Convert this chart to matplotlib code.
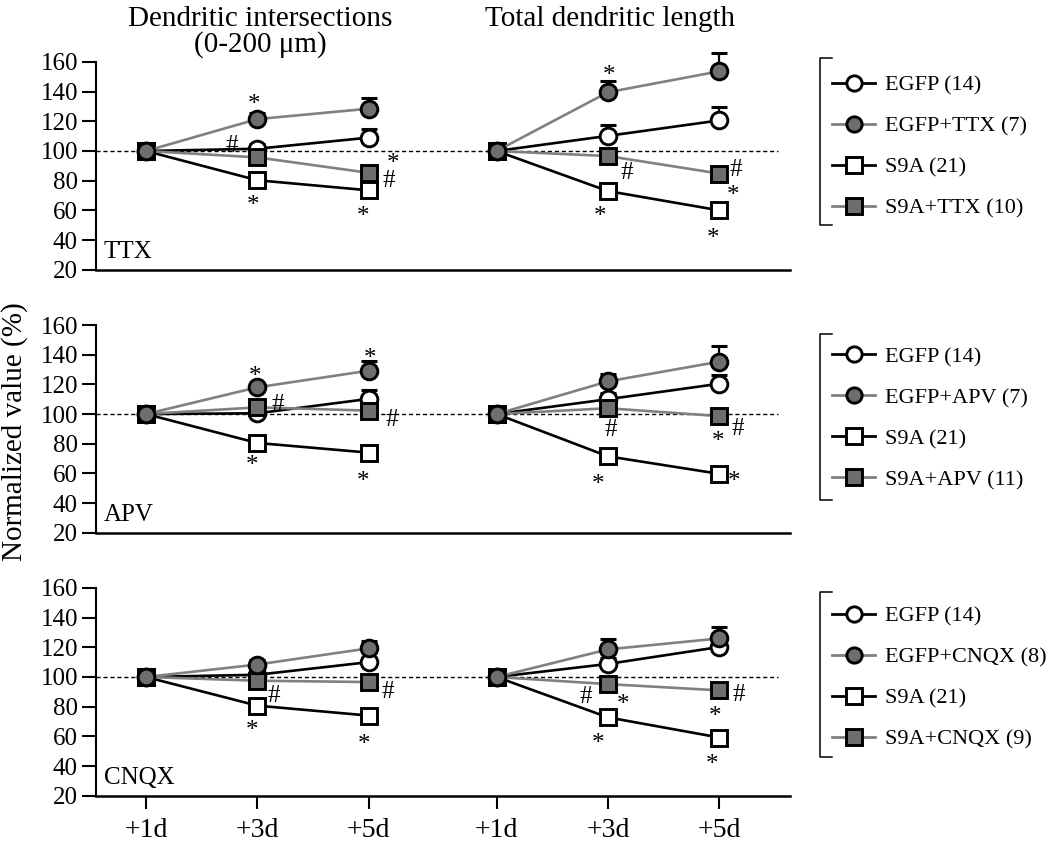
import matplotlib.pyplot as plt
from matplotlib.lines import Line2D
from matplotlib.transforms import blended_transform_factory

plt.rcParams["font.family"] = ["Liberation Serif", "DejaVu Serif"]

days = ["+1d", "+3d", "+5d"]
drugs = ["TTX", "APV", "CNQX"]
yticks = [20, 40, 60, 80, 100, 120, 140, 160]
group_n = {"TTX": [14, 7, 21, 10], "APV": [14, 7, 21, 11], "CNQX": [14, 8, 21, 9]}

# (dendritic intersections, total dendritic length), each at +1d, +3d, +5d
egfp = {
    "TTX": ([100, 101.5, 109], [100, 110.2, 120.6]),
    "APV": ([100, 100.5, 110.2], [100, 110, 120.4]),
    "CNQX": ([100, 101.5, 110], [100, 108.8, 120.2]),
}
egfp_drug = {
    "TTX": ([100, 121.5, 128.5], [100, 139.6, 153.7]),
    "APV": ([100, 118, 129.2], [100, 122, 135.3]),
    "CNQX": ([100, 108.4, 119.3], [100, 118.6, 126]),
}
s9a = {
    "TTX": ([100, 80.3, 73.5], [100, 73, 60]),
    "APV": ([100, 80.5, 74], [100, 71.5, 59.7]),
    "CNQX": ([100, 80.7, 74], [100, 72.8, 59.2]),
}
s9a_drug = {
    "TTX": ([100, 95.7, 85.3], [100, 96.6, 84.8]),
    "APV": ([100, 104.5, 102.3], [100, 103.9, 98.6]),
    "CNQX": ([100, 97.5, 96.6], [100, 95.2, 91]),
}
# upper error (SEM)
egfp_err = {
    "TTX": ([0, 3, 6], [0, 7, 9]),
    "APV": ([0, 2, 6], [0, 4, 6]),
    "CNQX": ([0, 2, 3], [0, 4, 5]),
}
egfp_drug_err = {
    "TTX": ([0, 4, 7.5], [0, 7.5, 12.5]),
    "APV": ([0, 3, 6.5], [0, 5, 10.5]),
    "CNQX": ([0, 3, 5], [0, 7, 8]),
}
s9a_err = {d: ([0, 2, 2], [0, 2, 2]) for d in drugs}
s9a_drug_err = {d: ([0, 2, 3], [0, 2, 2]) for d in drugs}

# significance marks: (series, day index, symbol, dx px, dy px) relative to the point
marks = {
    ("TTX", 0): [("egfp_drug", 1, "*", -3, -21), ("egfp", 1, "#", -25, -5),
                 ("s9a_drug", 2, "*", 24, -15), ("s9a_drug", 2, "#", 20, 6),
                 ("s9a", 1, "*", -4, 19), ("s9a", 2, "*", -6, 20)],
    ("TTX", 1): [("egfp_drug", 1, "*", 1, -23), ("s9a_drug", 1, "#", 19, 14),
                 ("s9a_drug", 2, "#", 17, -6), ("s9a_drug", 2, "*", 14, 16),
                 ("s9a", 1, "*", -8, 19), ("s9a", 2, "*", -6, 22)],
    ("APV", 0): [("egfp_drug", 1, "*", -2, -17), ("s9a_drug", 1, "#", 21, -5),
                 ("egfp_drug", 2, "*", 1, -18), ("s9a_drug", 2, "#", 23, 7),
                 ("s9a", 1, "*", -5, 17), ("s9a", 2, "*", -6, 23)],
    ("APV", 1): [("s9a_drug", 1, "#", 3, 19), ("s9a_drug", 2, "*", -1, 19),
                 ("s9a_drug", 2, "#", 19, 10), ("s9a", 1, "*", -10, 22),
                 ("s9a", 2, "*", 15, 2)],
    ("CNQX", 0): [("s9a_drug", 1, "#", 17, 13), ("s9a_drug", 2, "#", 19, 7),
                  ("s9a", 1, "*", -5, 19), ("s9a", 2, "*", -5, 23)],
    ("CNQX", 1): [("s9a_drug", 1, "#", -22, 10), ("s9a_drug", 1, "*", 15, 14),
                  ("s9a_drug", 2, "#", 20, 2), ("s9a_drug", 2, "*", -4, 20),
                  ("s9a", 1, "*", -10, 20), ("s9a", 2, "*", -7, 21)],
}

GRAY_LINE = "#808080"
GRAY_FILL = "#6e6e6e"
styles = {
    "egfp": dict(marker="o", color="black", mfc="white"),
    "s9a": dict(marker="s", color="black", mfc="white"),
    "s9a_drug": dict(marker="s", color=GRAY_LINE, mfc=GRAY_FILL),
    "egfp_drug": dict(marker="o", color=GRAY_LINE, mfc=GRAY_FILL),
}
order = ["egfp", "s9a", "s9a_drug", "egfp_drug"]
legend_order = ["egfp", "egfp_drug", "s9a", "s9a_drug"]
means = {"egfp": egfp, "egfp_drug": egfp_drug, "s9a": s9a, "s9a_drug": s9a_drug}
errs = {"egfp": egfp_err, "egfp_drug": egfp_drug_err, "s9a": s9a_err, "s9a_drug": s9a_drug_err}

xpos = ([0, 1, 2], [3.15, 4.15, 5.15])
PT = 72 / 100  # points per pixel
glyph_rise = {"*": 12.5, "#": 8.5}

fig = plt.figure(figsize=(10.5, 8.42), dpi=100)
bottoms = [0.6797, 0.3673, 0.0550]
legend_y = [0.592, 0.55, 0.568]
bracket = [(1.019, 0.215), (0.957, 0.157), (0.981, 0.186)]
axes = []
for r, drug in enumerate(drugs):
    ax = fig.add_axes([0.0914, bottoms[r], 0.661, 0.2467])
    axes.append(ax)
    ax.set_xlim(-0.449, 5.786)
    ax.set_ylim(20, 160)
    ax.plot([-0.449, 5.68], [100, 100], color="black", lw=1, ls=(0, (3, 2)),
            zorder=1, clip_on=False)

    for m in range(2):
        x = xpos[m]
        for z, key in enumerate(order):
            st = styles[key]
            vals = means[key][drug][m]
            up = errs[key][drug][m]
            ax.errorbar(x, vals, yerr=[[0] * 3, up], fmt="none", ecolor="black",
                        elinewidth=1.6, capsize=5.5, capthick=2.2, zorder=3 + z,
                        clip_on=False)
            ax.plot(x, vals, color=st["color"], lw=1.9, marker=st["marker"],
                    ms=12, mfc=st["mfc"], mec="black", mew=2.1, zorder=3.5 + z,
                    clip_on=False)
        for key, i, sym, dx, dy in marks[(drug, m)]:
            val = means[key][drug][m][i]
            ax.annotate(sym, (x[i], val), xytext=(dx * PT, -(dy + glyph_rise[sym]) * PT),
                        textcoords="offset points", ha="center", va="baseline",
                        fontsize=18, zorder=10)

    ax.spines["top"].set_visible(False)
    ax.spines["right"].set_visible(False)
    ax.spines["left"].set_linewidth(1.5)
    ax.spines["bottom"].set_linewidth(1.8)
    ax.set_yticks(yticks)
    ax.tick_params(axis="y", labelsize=18, length=10, width=1.5, pad=3)
    if r < 2:
        ax.set_xticks([])
    else:
        ax.set_xticks(xpos[0] + xpos[1])
        ax.set_xticklabels(days + days)
        ax.tick_params(axis="x", labelsize=20, length=9, width=1.5, pad=7)

    ax.text(0.011, 0.055, drug, transform=ax.transAxes, fontsize=18, va="baseline")

    handles = []
    labels = []
    names = {"egfp": "EGFP", "egfp_drug": "EGFP+" + drug, "s9a": "S9A", "s9a_drug": "S9A+" + drug}
    for k, key in enumerate(legend_order):
        st = styles[key]
        handles.append(Line2D([], [], color=st["color"], lw=2, marker=st["marker"],
                              ms=11, mfc=st["mfc"], mec="black", mew=2.1))
        labels.append(f"{names[key]} ({group_n[drug][k]})")
    ax.legend(handles, labels, loc="center left", bbox_to_anchor=(1.0605, legend_y[r]),
              frameon=False, fontsize=16, handlelength=1.95, handletextpad=0.45,
              labelspacing=0.92, borderpad=0, borderaxespad=0)
    btop, bbot = bracket[r]
    ax.add_line(Line2D([1.06, 1.043, 1.043, 1.06], [btop, btop, bbot, bbot],
                       transform=ax.transAxes, color="black", lw=1.1, clip_on=False))

top = axes[0]
tr = blended_transform_factory(top.transData, fig.transFigure)
top.text(1.03, 1 - 26 / 842, "Dendritic intersections", transform=tr, ha="center",
         va="baseline", fontsize=21)
top.text(1.03, 1 - 52 / 842, "(0-200 μm)", transform=tr, ha="center",
         va="baseline", fontsize=21)
top.text(4.17, 1 - 26 / 842, "Total dendritic length", transform=tr, ha="center",
         va="baseline", fontsize=21)

fig.text(15 / 1050, 1 - 432 / 842, "Normalized value (%)", rotation=90,
         ha="center", va="center", fontsize=21)

fig.savefig("out.png", dpi=100)
